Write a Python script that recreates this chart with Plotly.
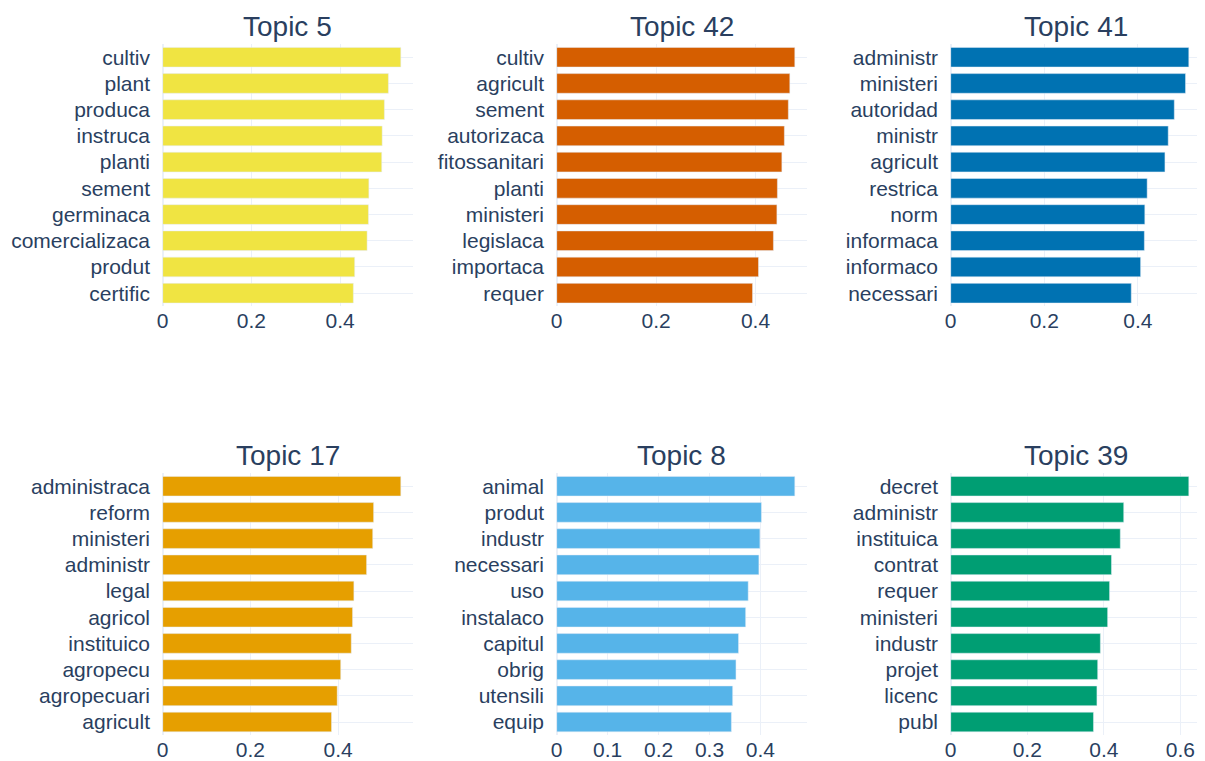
import plotly.graph_objects as go

topics = ["Topic 5", "Topic 42", "Topic 41", "Topic 17", "Topic 8", "Topic 39"]
colors = ["#F0E442", "#D55E00", "#0072B2", "#E69F00", "#56B4E9", "#009E73"]

words_5 = ["cultiv", "plant", "produca", "instruca", "planti", "sement", "germinaca",
           "comercializaca", "produt", "certific"]
scores_5 = [0.537, 0.509, 0.500, 0.495, 0.494, 0.465, 0.464, 0.461, 0.433, 0.430]

words_42 = ["cultiv", "agricult", "sement", "autorizaca", "fitossanitari", "planti",
            "ministeri", "legislaca", "importaca", "requer"]
scores_42 = [0.479, 0.469, 0.466, 0.458, 0.453, 0.444, 0.443, 0.436, 0.406, 0.394]

words_41 = ["administr", "ministeri", "autoridad", "ministr", "agricult", "restrica",
            "norm", "informaca", "informaco", "necessari"]
scores_41 = [0.509, 0.502, 0.478, 0.465, 0.458, 0.420, 0.415, 0.414, 0.406, 0.386]

words_17 = ["administraca", "reform", "ministeri", "administr", "legal", "agricol",
            "instituico", "agropecu", "agropecuari", "agricult"]
scores_17 = [0.543, 0.481, 0.479, 0.465, 0.436, 0.433, 0.430, 0.406, 0.398, 0.385]

words_8 = ["animal", "produt", "industr", "necessari", "uso", "instalaco", "capitul",
           "obrig", "utensili", "equip"]
scores_8 = [0.4675, 0.402, 0.399, 0.397, 0.376, 0.371, 0.357, 0.352, 0.3455, 0.343]

words_39 = ["decret", "administr", "instituica", "contrat", "requer", "ministeri",
            "industr", "projet", "licenc", "publ"]
scores_39 = [0.622, 0.452, 0.443, 0.420, 0.415, 0.410, 0.391, 0.384, 0.382, 0.373]

all_words = [words_5, words_42, words_41, words_17, words_8, words_39]
all_scores = [scores_5, scores_42, scores_41, scores_17, scores_8, scores_39]
dticks = [0.2, 0.2, 0.2, 0.2, 0.1, 0.2]

# page body has an 8px margin; figure fills the rest of the window
OFF = 8
W, H = 1205 - OFF, 761 - OFF
col_px = [(162.7, 412.7), (556.7, 806.7), (950.7, 1200.7)]
row_px = [(44.1, 306.3), (473.1, 735.1)]

FONT = "Liberation Sans, Arial, sans-serif"
TXT = "#2a3f5f"
GRID = "#EBF0F8"

fig = go.Figure()
annotations = []
for i, (name, col, words, scores, dt) in enumerate(
        zip(topics, colors, all_words, all_scores, dticks)):
    r, c = divmod(i, 3)
    n = i + 1
    xa = "x" if n == 1 else f"x{n}"
    ya = "y" if n == 1 else f"y{n}"
    fig.add_trace(go.Bar(x=scores[::-1], y=words[::-1], orientation="h",
                         marker_color=col, xaxis=xa, yaxis=ya,
                         hoverinfo="x+y"))
    left, right = col_px[c][0] - OFF, col_px[c][1] - OFF
    x0, x1 = left / W, right / W
    y_top, y_bot = row_px[r][0] - OFF, row_px[r][1] - OFF
    d0, d1 = (H - y_bot) / H, (H - y_top) / H
    xkey = "xaxis" if n == 1 else f"xaxis{n}"
    ykey = "yaxis" if n == 1 else f"yaxis{n}"
    fig.update_layout(**{
        xkey: dict(domain=[x0, x1], anchor=ya, dtick=dt, tick0=0,
                   range=[0, max(scores) * 1.05],
                   showgrid=True, gridcolor=GRID, zeroline=True, zerolinecolor=GRID,
                   zerolinewidth=2, showline=False, ticks="", automargin=False,
                   tickfont=dict(size=21, color=TXT, family=FONT)),
        ykey: dict(domain=[d0, d1], anchor=xa, showgrid=True, gridcolor=GRID,
                   ticks="", ticksuffix="  ", automargin=False,
                   tickfont=dict(size=21, color=TXT, family=FONT)),
    })
    annotations.append(dict(text=name, x=(x0 + x1) / 2, y=d1,
                            xref="paper", yref="paper",
                            xanchor="center", yanchor="bottom", showarrow=False,
                            font=dict(size=28, color=TXT, family=FONT)))

fig.update_layout(width=W, height=H, margin=dict(l=0, r=0, t=0, b=0),
                  plot_bgcolor="white", paper_bgcolor="white", showlegend=False,
                  bargap=0.25, annotations=annotations,
                  font=dict(family=FONT, color=TXT))

fig.write_html("out.html")
